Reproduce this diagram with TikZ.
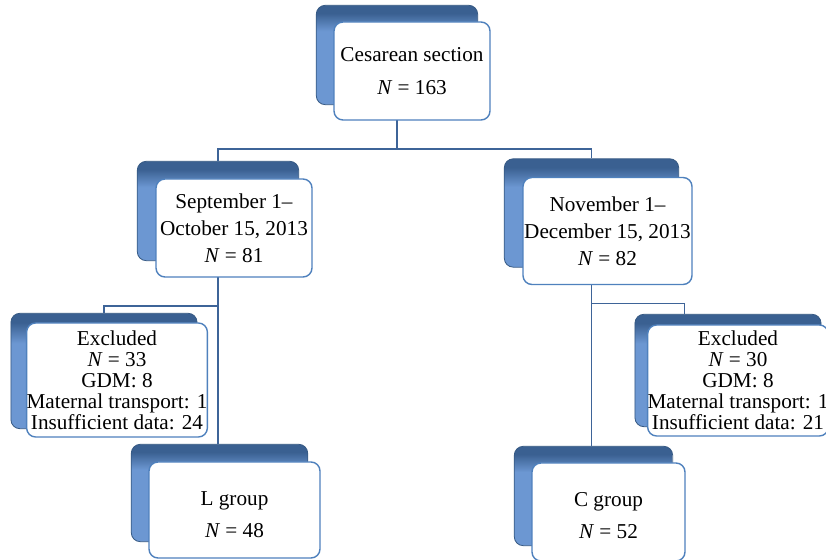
\documentclass[tikz,border=0pt]{standalone}
\usepackage{fontspec}
\setmainfont{Liberation Serif}
\usetikzlibrary{backgrounds, fit}
\definecolor{accentblue}{RGB}{79,129,189}
\definecolor{tabdark}{RGB}{58,96,145}
\definecolor{tablight}{RGB}{108,151,210}
\definecolor{linkblue}{RGB}{62,100,152}
\pgfdeclareverticalshading{tabshade}{100bp}{color(0bp)=(tablight); color(62bp)=(tablight); color(71bp)=(tabdark); color(100bp)=(tabdark)}

\begin{document}
\begin{tikzpicture}[x=0.5pt, y=-0.5pt,
        front/.style={rectangle, draw=accentblue, fill=white, line width=0.7pt,
            rounded corners=4.5pt, align=center, inner sep=0pt,
            font=\fontsize{10.6}{13.5}\selectfont},
        tab/.style={rectangle, draw=accentblue!70!black, line width=0.4pt,
            rounded corners=4.5pt, shade, shading=tabshade, inner sep=0pt},
        link/.style={draw=linkblue, line width=0.6pt}
    ]
        \useasboundingbox (0,0) rectangle (826,560);

        \node[front, minimum width=78pt, minimum height=49pt] (cs) at (412,71)
            {Cesarean section\\[3pt]\textit{N} = 163};
        \node[front, minimum width=78pt, minimum height=49pt] (sep) at (234,228)
            {September 1–\\October 15, 2013\\\textit{N} = 81};
        \node[front, minimum width=84.5pt, minimum height=53.5pt] (nov) at (607.5,231)
            {November 1–\\December 15, 2013\\\textit{N} = 82};
        \node[front, minimum width=90pt, minimum height=57pt,
            font=\fontsize{10.6}{10.5}\selectfont] (exl) at (117,380)
            {Excluded\\\textit{N} = 33\\GDM: 8\\Maternal transport: 1\\Insufficient data: 24};
        \node[front, minimum width=90pt, minimum height=55.5pt,
            font=\fontsize{10.6}{10.5}\selectfont] (exr) at (738,380.5)
            {Excluded\\\textit{N} = 30\\GDM: 8\\Maternal transport: 1\\Insufficient data: 21};
        \node[front, minimum width=85.5pt, minimum height=48pt] (lgr) at (234.5,510)
            {\rule{0pt}{12pt}L group\\[2.5pt]\textit{N} = 48};
        \node[front, minimum width=76.5pt, minimum height=49pt] (cgr) at (608.5,512)
            {\rule{0pt}{10.5pt}C group\\[2.5pt]\textit{N} = 52};

        \begin{scope}[on background layer]
            \fill[white] (0,0) rectangle (826,560);
            % blue tabs behind the boxes
            \foreach \n/\dx/\dy in {cs/17/16, sep/18/17, nov/18/18, exl/15/9,
                exr/12/10, lgr/17/17, cgr/17/16}
                \node[tab, fit={([shift={(-\dx,-\dy)}]\n.south west)
                    ([shift={(4-\dx,-\dy)}]\n.north east)}] (\n-t) {};

            \draw[link] (cs-t.south) -- ++(0,44) -| (sep-t.north);
            \draw[link] (cs-t.south) -- ++(0,44) -| (nov-t.north);
            \draw[link] (sep-t.south) -- ++(0,45) -| (exl-t.north);
            \draw[link] (sep-t.south) -- (sep-t.south |- lgr-t.north);
            \draw[link] (nov-t.south) -- ++(0,36) -| ([xshift=25pt]exr-t.north west);
            \draw[link] (nov-t.south) -- (nov-t.south |- cgr-t.north);
        \end{scope}
    \end{tikzpicture}
\end{document}
